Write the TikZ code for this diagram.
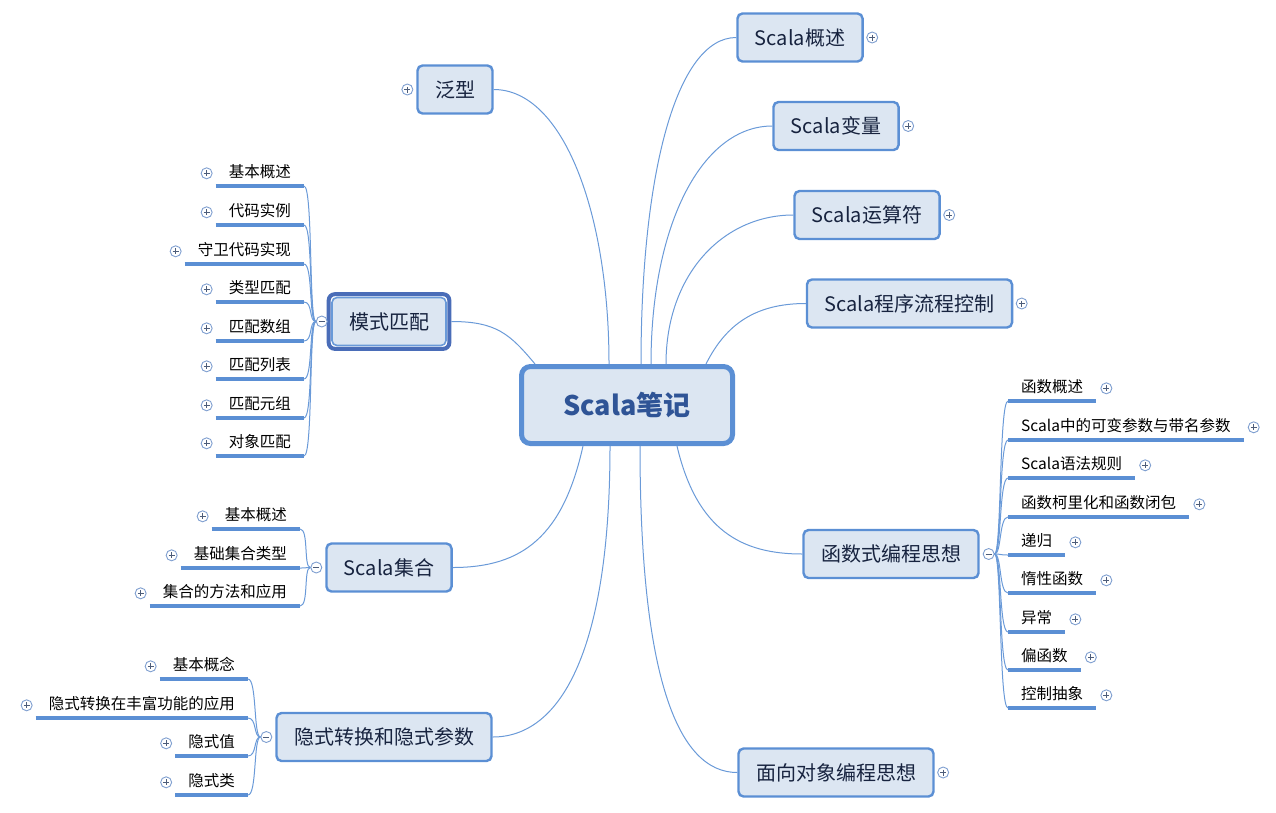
\documentclass[tikz,border=0pt]{standalone}
\usepackage{fontspec}
\setmainfont{Noto Sans CJK SC}
\usepackage{tikz}
\usetikzlibrary{positioning,fit}

\definecolor{linkblue}{HTML}{6A9AD8}
\definecolor{edgeblue}{HTML}{5B8FD4}
\definecolor{fillblue}{HTML}{DCE6F2}
\definecolor{roottext}{HTML}{2F5496}
\definecolor{topictext}{HTML}{17233F}
\definecolor{selframe}{HTML}{4A6DB8}
\definecolor{markblue}{HTML}{7F9FD0}
\definecolor{markdark}{HTML}{4D5D7A}

\tikzset{
  root/.style={rectangle, rounded corners=9, draw=edgeblue, line width=5, fill=fillblue,
    minimum width=211, minimum height=77, text=roottext,
    font=\fontsize{27}{32}\selectfont\bfseries},
  topic/.style={rectangle, rounded corners=5, draw=edgeblue, line width=2.4, fill=fillblue,
    minimum height=48, inner xsep=17.5, text=topictext,
    font=\fontsize{20}{24}\selectfont},
  selected/.style={rectangle, rounded corners=6, draw=selframe, line width=4, inner sep=2.5},
  leaf/.style={inner xsep=13, inner ysep=5, text height=11.5, text depth=3.5,
    font=\fontsize{15.5}{18}\selectfont},
  uline/.style={draw=edgeblue, line width=3.5},
  branch/.style={draw=linkblue, line width=1},
  plusmark/.style={circle, draw=markblue, fill=white, line width=0.9, minimum size=11, inner sep=0,
    path picture={\draw[markdark, line width=0.9] (path picture bounding box.center) +(-3,0) -- +(3,0) +(0,-3) -- +(0,3);}},
  minusmark/.style={circle, draw=markblue, fill=white, line width=0.9, minimum size=11, inner sep=0,
    path picture={\draw[markdark, line width=0.9] (path picture bounding box.center) +(-3,0) -- +(3,0);}}
}

\begin{document}
\begin{tikzpicture}[x=1pt, y=-1pt]
  \useasboundingbox (0,0) rectangle (1276,812);

  % central topic
  \node[root] (root) at (627,405) {Scala笔记};

  % main topics
  \node[topic] (gaishu) at (800,37.5) {Scala概述};
  \node[topic] (bianliang) at (836,126) {Scala变量};
  \node[topic] (yunsuan) at (867,215) {Scala运算符};
  \node[topic] (liucheng) at (909.5,303.5) {Scala程序流程控制};
  \node[topic] (hanshu) at (891,554) {函数式编程思想};
  \node[topic] (duixiang) at (836,772.5) {面向对象编程思想};
  \node[topic] (fanxing) at (455,89.5) {泛型};
  \node[topic, draw=linkblue, line width=1.6, inner xsep=17] (moshi) at (389,321.5) {模式匹配};
  \node[selected, fit=(moshi)] (moshibox) {};
  \node[topic] (jihe) at (389,567.5) {Scala集合};
  \node[topic] (yinshi) at (384,737) {隐式转换和隐式参数};

  \node[plusmark, right=2.5pt of gaishu] (gaishu-x) {};
  \node[plusmark, right=2.5pt of bianliang] (bianliang-x) {};
  \node[plusmark, right=2.5pt of yunsuan] (yunsuan-x) {};
  \node[plusmark, right=2.5pt of liucheng] (liucheng-x) {};
  \node[plusmark, right=2.5pt of duixiang] (duixiang-x) {};
  \node[plusmark, left=3pt of fanxing] (fanxing-x) {};
  \node[minusmark, right=3pt of hanshu] (hanshu-x) {};
  \node[minusmark, left=-1pt of moshibox] (moshi-x) {};
  \node[minusmark, left=3pt of jihe] (jihe-x) {};
  \node[minusmark, left=3pt of yinshi] (yinshi-x) {};

  % attachment points on the central topic
  \coordinate (rt1) at (535,364);
  \coordinate (rt2) at (609,364);
  \coordinate (rt3) at (641,364);
  \coordinate (rt4) at (651,364);
  \coordinate (rt5) at (666,364);
  \coordinate (rt6) at (706,364);
  \coordinate (rb1) at (583,446);
  \coordinate (rb2) at (610,446);
  \coordinate (rb3) at (640,446);
  \coordinate (rb4) at (677,446);

  % main branches
  \draw[branch] (rt1) .. controls +(-25,-30) and +(45,0) .. (moshibox.east);
  \draw[branch] (rt2) .. controls +(0,-150) and +(70,0) .. (fanxing.east);
  \draw[branch] (rt3) .. controls +(0,-190) and +(-60,0) .. (gaishu.west);
  \draw[branch] (rt4) .. controls +(0,-140) and +(-70,0) .. (bianliang.west);
  \draw[branch] (rt5) .. controls +(0,-90) and +(-70,0) .. (yunsuan.west);
  \draw[branch] (rt6) .. controls +(20,-40) and +(-50,0) .. (liucheng.west);
  \draw[branch] (rb1) .. controls +(-20,90) and +(70,0) .. (jihe.east);
  \draw[branch] (rb2) .. controls +(0,200) and +(70,0) .. (yinshi.east);
  \draw[branch] (rb3) .. controls +(0,230) and +(-60,0) .. (duixiang.west);
  \draw[branch] (rb4) .. controls +(20,85) and +(-60,0) .. (hanshu.west);

  % pattern matching
  \node[leaf, anchor=south east] (m1) at (304,186) {基本概述};
  \node[leaf, anchor=south east] (m2) at (304,225) {代码实例};
  \node[leaf, anchor=south east] (m3) at (304,264) {守卫代码实现};
  \node[leaf, anchor=south east] (m4) at (304,302) {类型匹配};
  \node[leaf, anchor=south east] (m5) at (304,341) {匹配数组};
  \node[leaf, anchor=south east] (m6) at (304,379) {匹配列表};
  \node[leaf, anchor=south east] (m7) at (304,418) {匹配元组};
  \node[leaf, anchor=south east] (m8) at (304,456) {对象匹配};

  % collections
  \node[leaf, anchor=south east] (j1) at (300,529) {基本概述};
  \node[leaf, anchor=south east] (j2) at (300,568) {基础集合类型};
  \node[leaf, anchor=south east] (j3) at (300,606) {集合的方法和应用};

  % implicits
  \node[leaf, anchor=south east] (y1) at (248,679) {基本概念};
  \node[leaf, anchor=south east] (y2) at (248,718) {隐式转换在丰富功能的应用};
  \node[leaf, anchor=south east] (y3) at (248,756) {隐式值};
  \node[leaf, anchor=south east] (y4) at (248,795) {隐式类};

  % functional programming
  \node[leaf, anchor=south west] (h1) at (1008,401) {函数概述};
  \node[leaf, anchor=south west] (h2) at (1008,440) {Scala中的可变参数与带名参数};
  \node[leaf, anchor=south west] (h3) at (1008,478) {Scala语法规则};
  \node[leaf, anchor=south west] (h4) at (1008,517) {函数柯里化和函数闭包};
  \node[leaf, anchor=south west] (h5) at (1008,555) {递归};
  \node[leaf, anchor=south west] (h6) at (1008,593) {惰性函数};
  \node[leaf, anchor=south west] (h7) at (1008,632) {异常};
  \node[leaf, anchor=south west] (h8) at (1008,670) {偏函数};
  \node[leaf, anchor=south west] (h9) at (1008,708) {控制抽象};

  % underlines, expanders and links of the leaves
  \foreach \n in {m1,m2,m3,m4,m5,m6,m7,m8} {
    \draw[uline] (\n.south west) -- (\n.south east);
    \node[plusmark, left=3pt of \n.west] (\n-x) {};
    \draw[branch] (moshi-x.west) .. controls +(-7,0) and +(9,0) .. (\n.south east);
  }
  \foreach \n in {j1,j2,j3} {
    \draw[uline] (\n.south west) -- (\n.south east);
    \node[plusmark, left=3pt of \n.west] (\n-x) {};
    \draw[branch] (jihe-x.west) .. controls +(-7,0) and +(9,0) .. (\n.south east);
  }
  \foreach \n in {y1,y2,y3,y4} {
    \draw[uline] (\n.south west) -- (\n.south east);
    \node[plusmark, left=3pt of \n.west] (\n-x) {};
    \draw[branch] (yinshi-x.west) .. controls +(-7,0) and +(9,0) .. (\n.south east);
  }
  \foreach \n in {h1,h2,h3,h4,h5,h6,h7,h8,h9} {
    \draw[uline] (\n.south west) -- (\n.south east);
    \node[plusmark, right=4pt of \n.east] (\n-x) {};
    \draw[branch] (hanshu-x.east) .. controls +(7,0) and +(-9,0) .. (\n.south west);
  }
\end{tikzpicture}
\end{document}
